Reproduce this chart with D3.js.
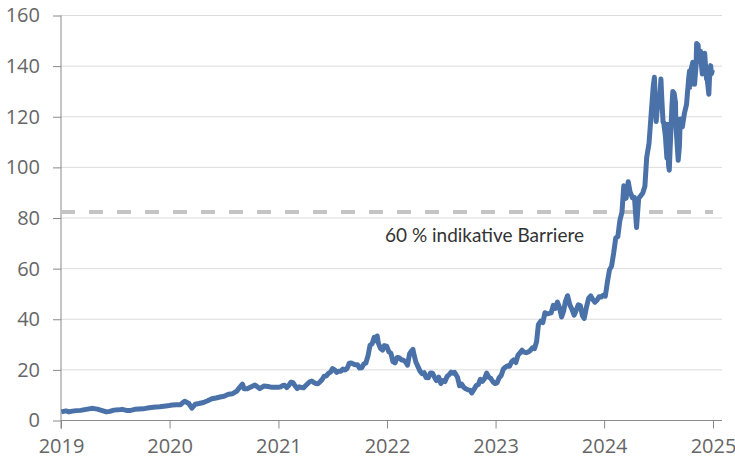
<!DOCTYPE html>
<html>
<head>
<meta charset="utf-8">
<script src="https://cdn.jsdelivr.net/npm/d3@7"></script>
<style>
  body { margin: 0; background: #fff; }
  .tick text { font-family: "Open Sans", sans-serif; font-size: 20px; fill: #666; }
</style>
</head>
<body>
<svg id="chart"></svg>
<script>
// price history, split adjusted
var dates2019 = ["2019-01-02","2019-01-10","2019-01-18","2019-01-28","2019-02-08","2019-02-22","2019-03-08","2019-03-22","2019-04-05","2019-04-18","2019-05-03","2019-05-17","2019-06-03","2019-06-14","2019-06-28","2019-07-12","2019-07-26","2019-08-09","2019-08-23","2019-09-06","2019-09-20","2019-10-04","2019-10-18","2019-11-01","2019-11-15","2019-11-29","2019-12-13","2019-12-31"]
var prices2019 = [3.4,3.6,3.8,3.4,3.7,3.9,4.0,4.3,4.6,4.8,4.5,4.0,3.4,3.6,4.1,4.2,4.4,4.0,4.0,4.4,4.5,4.6,4.9,5.1,5.3,5.4,5.6,5.9]

var dates2020 = ["2020-01-10","2020-01-24","2020-02-07","2020-02-14","2020-02-21","2020-03-06","2020-03-16","2020-03-27","2020-04-09","2020-04-24","2020-05-08","2020-05-22","2020-06-05","2020-06-19","2020-07-02","2020-07-17","2020-07-31","2020-08-14","2020-08-21","2020-09-02","2020-09-08","2020-09-18","2020-10-02","2020-10-14","2020-10-30","2020-11-13","2020-11-27","2020-12-11","2020-12-31"]
var prices2020 = [6.1,6.2,6.2,7.0,7.6,6.7,4.9,6.4,6.7,7.1,7.8,8.6,8.9,9.3,9.6,10.4,10.6,11.6,12.7,14.4,12.5,12.5,13.3,14.0,12.6,13.6,13.4,13.1,13.1]

var dates2021 = ["2021-01-08","2021-01-15","2021-01-22","2021-01-29","2021-02-05","2021-02-12","2021-02-19","2021-02-26","2021-03-05","2021-03-12","2021-03-19","2021-03-26","2021-04-02","2021-04-09","2021-04-16","2021-04-23","2021-04-30","2021-05-07","2021-05-14","2021-05-21","2021-05-28","2021-06-04","2021-06-11","2021-06-18","2021-06-25","2021-07-02","2021-07-09","2021-07-16","2021-07-23","2021-07-30","2021-08-06","2021-08-13","2021-08-20","2021-08-27","2021-09-03","2021-09-10","2021-09-17","2021-09-24","2021-10-01","2021-10-08","2021-10-15","2021-10-22","2021-10-29","2021-11-05","2021-11-12","2021-11-19","2021-11-24","2021-11-29","2021-12-03","2021-12-10","2021-12-17","2021-12-23","2021-12-31"]
var prices2021 = [13.3,13.8,13.9,13.0,13.9,15.1,14.9,13.7,12.6,13.3,13.1,12.9,13.7,14.5,15.3,15.6,15.0,14.6,14.5,15.3,16.2,17.5,17.6,18.6,19.1,20.5,20.0,19.0,19.5,19.5,20.3,20.0,20.6,22.6,22.7,22.3,22.0,22.0,20.7,20.8,22.3,22.7,25.5,29.7,30.3,32.9,31.5,33.4,30.6,28.5,27.8,29.6,29.4]

var dates2022 = ["2022-01-07","2022-01-14","2022-01-21","2022-01-28","2022-02-04","2022-02-11","2022-02-18","2022-02-25","2022-03-04","2022-03-11","2022-03-18","2022-03-25","2022-03-29","2022-04-01","2022-04-08","2022-04-14","2022-04-22","2022-04-29","2022-05-06","2022-05-12","2022-05-20","2022-05-27","2022-06-03","2022-06-10","2022-06-16","2022-06-24","2022-07-01","2022-07-08","2022-07-15","2022-07-22","2022-07-29","2022-08-05","2022-08-12","2022-08-16","2022-08-19","2022-08-26","2022-09-02","2022-09-09","2022-09-16","2022-09-23","2022-09-30","2022-10-07","2022-10-13","2022-10-21","2022-10-28","2022-11-04","2022-11-11","2022-11-18","2022-11-25","2022-12-02","2022-12-09","2022-12-16","2022-12-23","2022-12-30"]
var prices2022 = [27.2,26.6,23.3,22.8,24.9,24.8,24.0,23.8,23.2,21.9,26.4,27.6,28.1,26.5,23.1,21.6,19.5,18.5,18.9,17.0,16.9,18.8,18.7,17.0,15.8,17.1,14.6,15.8,15.4,17.4,18.1,19.1,18.7,19.0,18.5,17.1,13.7,14.4,13.1,12.5,12.1,12.0,10.9,12.4,13.8,14.2,16.3,15.5,16.5,18.7,17.1,16.6,15.3,14.6]

var dates2023 = ["2023-01-06","2023-01-13","2023-01-20","2023-01-27","2023-02-03","2023-02-10","2023-02-17","2023-02-24","2023-03-03","2023-03-10","2023-03-17","2023-03-24","2023-03-31","2023-04-06","2023-04-14","2023-04-21","2023-04-28","2023-05-05","2023-05-12","2023-05-19","2023-05-25","2023-06-02","2023-06-09","2023-06-16","2023-06-23","2023-06-30","2023-07-07","2023-07-14","2023-07-21","2023-07-28","2023-08-04","2023-08-11","2023-08-18","2023-08-24","2023-08-31","2023-09-08","2023-09-15","2023-09-22","2023-09-29","2023-10-06","2023-10-13","2023-10-20","2023-10-26","2023-11-03","2023-11-10","2023-11-17","2023-11-24","2023-12-01","2023-12-08","2023-12-15","2023-12-22","2023-12-29"]
var prices2023 = [14.9,16.9,17.8,20.3,21.1,21.6,21.4,23.2,23.9,22.9,25.7,26.7,27.8,27.0,26.8,27.1,27.7,28.7,28.4,31.2,37.9,39.3,38.7,42.6,42.2,42.3,42.5,45.5,44.3,46.8,44.6,40.9,43.3,47.1,49.3,45.6,43.9,41.6,43.5,45.7,45.4,41.4,40.3,45.0,48.3,49.2,47.8,46.7,47.5,48.9,48.8,49.5]

var dates2024 = ["2024-01-05","2024-01-12","2024-01-19","2024-01-26","2024-02-02","2024-02-09","2024-02-16","2024-02-23","2024-03-01","2024-03-07","2024-03-08","2024-03-15","2024-03-22","2024-03-28","2024-04-05","2024-04-12","2024-04-19","2024-04-26","2024-05-03","2024-05-10","2024-05-17","2024-05-23","2024-05-31","2024-06-07","2024-06-14","2024-06-18","2024-06-21","2024-06-24","2024-06-28","2024-07-05","2024-07-10","2024-07-12","2024-07-17","2024-07-19","2024-07-25","2024-07-30","2024-07-31","2024-08-02","2024-08-05","2024-08-07","2024-08-09","2024-08-16","2024-08-19","2024-08-23","2024-08-28","2024-08-29","2024-09-03","2024-09-06","2024-09-10","2024-09-13","2024-09-20","2024-09-27","2024-10-04","2024-10-11","2024-10-14","2024-10-15","2024-10-18","2024-10-25","2024-10-31","2024-11-05","2024-11-07","2024-11-12","2024-11-15","2024-11-20","2024-11-22","2024-11-26","2024-11-29","2024-12-04","2024-12-10","2024-12-13","2024-12-18","2024-12-20","2024-12-24","2024-12-27","2024-12-30"]
var prices2024 = [49.1,54.7,59.5,61.0,66.1,72.1,72.6,79.1,82.3,92.7,87.5,87.8,94.3,90.4,88.0,88.1,76.2,87.7,88.8,89.9,92.5,103.8,109.6,120.9,131.9,135.6,126.6,118.1,123.5,125.8,134.9,129.2,117.9,117.9,112.3,103.7,117.0,107.3,100.4,98.9,104.8,124.6,130.0,129.4,125.6,117.6,108.0,102.8,108.1,119.1,116.0,121.4,124.9,134.8,138.1,131.6,138.0,141.5,132.8,139.9,148.9,148.3,141.9,145.9,141.9,136.9,138.3,145.1,135.1,134.3,128.9,134.7,140.2,137.0,138.5]

var yTicks = [0, 20, 40, 60, 80, 100, 120, 140, 160]
var xTicks = ["2019","2020","2021","2022","2023","2024","2025"]
var barrier = 82.4
var barrierLabel = "60 % indikative Barriere"

var w = 735
var h = 461
var mLeft = 61, mRight = 722, mTop = 15.5, mBottom = 420.5

var parse = d3.timeParse("%Y-%m-%d")
var allDates = [].concat(dates2019, dates2020, dates2021, dates2022, dates2023, dates2024)
var allPrices = [].concat(prices2019, prices2020, prices2021, prices2022, prices2023, prices2024)
var data = allDates.map(function (d, i) { return { time: parse(d), value: allPrices[i] } })

var x = d3.scaleTime()
    .domain([new Date(2019, 0, 1), new Date(2025, 0, 1)])
    .range([mLeft, 713])

var y = d3.scaleLinear()
    .domain([0, 160])
    .range([mBottom, mTop])

var svg = d3.select("#chart")
    .attr("width", w)
    .attr("height", h)

// gridlines
svg.append("g")
    .selectAll("line")
    .data(yTicks.filter(function (d) { return d > 0 }))
    .enter().append("line")
    .attr("x1", mLeft)
    .attr("x2", mRight)
    .attr("y1", function (d) { return y(d) })
    .attr("y2", function (d) { return y(d) })
    .attr("stroke", "#dcdcdc")
    .attr("stroke-width", 1)

// y axis
var yAxis = svg.append("g")
    .attr("transform", "translate(" + mLeft + ",0)")
    .call(d3.axisLeft(y).tickValues(yTicks).tickSize(8).tickPadding(13))
yAxis.select(".domain").attr("stroke", "#8a8a8a").attr("d", "M0," + mTop + "V" + (mBottom + 8))
yAxis.selectAll(".tick line").attr("stroke", "#8a8a8a")

// x axis
var xAxis = svg.append("g")
    .attr("transform", "translate(0," + mBottom + ")")
    .call(d3.axisBottom(x)
        .tickValues(xTicks.map(function (d) { return new Date(+d, 0, 1) }))
        .tickFormat(d3.timeFormat("%Y"))
        .tickSize(8).tickPadding(10))
xAxis.select(".domain").attr("stroke", "#8a8a8a").attr("d", "M" + mLeft + ",0H" + mRight)
xAxis.selectAll(".tick line").attr("stroke", "#8a8a8a")

// barrier
svg.append("line")
    .attr("x1", mLeft)
    .attr("x2", 713)
    .attr("y1", y(barrier))
    .attr("y2", y(barrier))
    .attr("stroke", "#c4c4c4")
    .attr("stroke-width", 4)
    .attr("stroke-dasharray", "14,14")

svg.append("text")
    .attr("x", 385)
    .attr("y", y(barrier) + 30)
    .attr("font-family", "Lato, sans-serif")
    .attr("font-size", 19)
    .attr("fill", "#333")
    .text(barrierLabel)

// price line
var line = d3.line()
    .x(function (d) { return x(d.time) })
    .y(function (d) { return y(d.value) })

svg.append("path")
    .datum(data)
    .attr("fill", "none")
    .attr("stroke", "#4a72a8")
    .attr("stroke-width", 5)
    .attr("stroke-linejoin", "round")
    .attr("d", line)
</script>
</body>
</html>
